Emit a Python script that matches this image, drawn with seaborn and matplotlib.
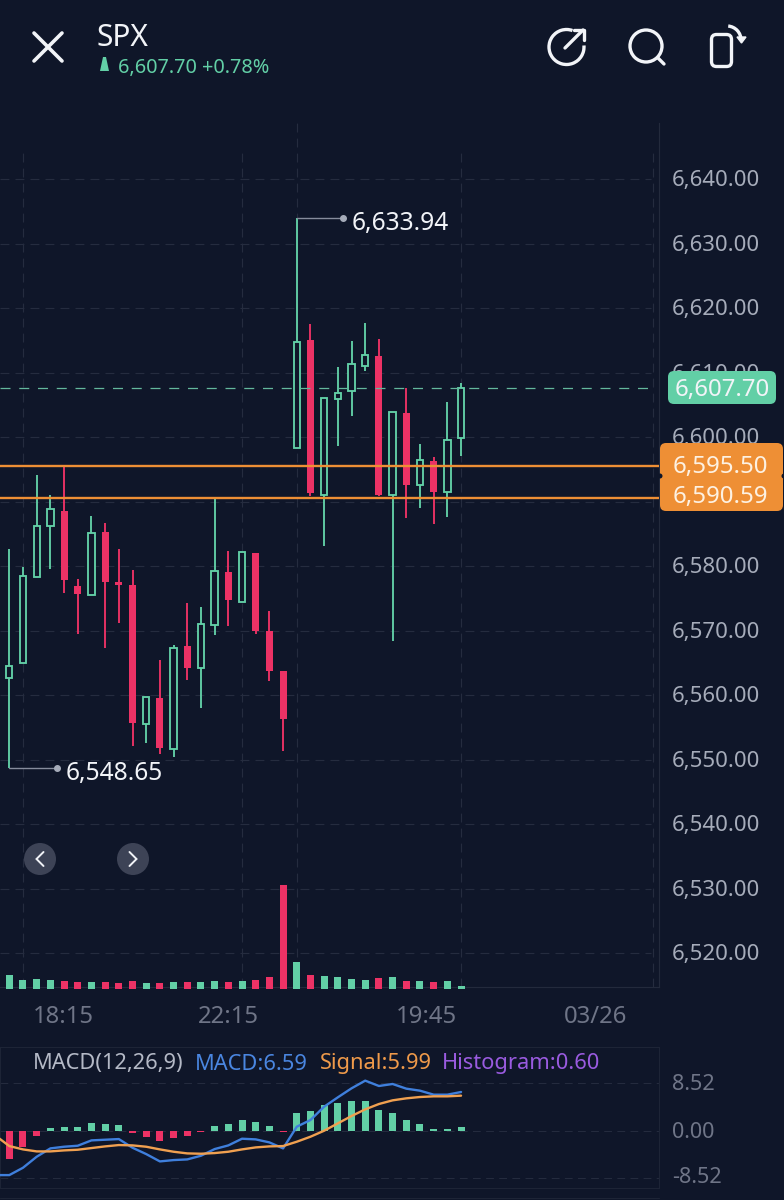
import matplotlib
matplotlib.use('Agg')
import matplotlib.pyplot as plt
import numpy as np
import pandas as pd
import seaborn as sns
from matplotlib.patches import Arc, Circle, FancyBboxPatch, Polygon
from matplotlib.transforms import ScaledTranslation

# candles
opens = [6562.61, 6565.04, 6578.27, 6586.23, 6588.61, 6576.93, 6575.53, 6585.30, 6577.55, 6577.03, 6555.48, 6559.57,
         6551.66, 6567.63, 6564.22, 6570.88, 6579.05, 6574.40, 6582.10, 6569.95, 6563.81, 6598.33, 6615.07, 6591.10,
         6605.93, 6607.14, 6611.04, 6612.59, 6591.10, 6603.81, 6592.60, 6596.37, 6591.56, 6599.88]
highs = [6582.61, 6579.82, 6594.14, 6591.04, 6595.69, 6577.96, 6587.83, 6586.75, 6582.61, 6579.41, 6559.67, 6565.46,
         6567.78, 6574.35, 6573.62, 6590.52, 6582.36, 6582.15, 6582.10, 6573.05, 6563.81, 6633.94, 6617.56, 6606.08,
         6610.94, 6614.92, 6617.76, 6615.28, 6603.86, 6607.58, 6598.95, 6596.88, 6605.41, 6608.46]
lows = [6548.65, 6565.04, 6578.27, 6579.56, 6575.90, 6569.44, 6575.53, 6567.32, 6571.14, 6552.12, 6552.54, 6550.83,
        6550.37, 6562.36, 6558.01, 6569.28, 6570.78, 6574.40, 6569.49, 6562.20, 6551.40, 6598.33, 6590.89, 6583.14,
        6598.64, 6603.29, 6610.32, 6590.89, 6568.46, 6587.43, 6589.03, 6586.55, 6587.58, 6597.09]
closes = [6564.58, 6578.53, 6586.28, 6588.87, 6577.86, 6575.64, 6585.10, 6577.50, 6577.09, 6555.74, 6559.67, 6551.76,
          6567.27, 6564.22, 6570.99, 6579.20, 6574.76, 6582.15, 6569.95, 6563.81, 6556.36, 6614.82, 6591.30, 6606.08,
          6606.91, 6611.41, 6612.75, 6591.10, 6603.86, 6592.60, 6596.52, 6591.56, 6599.57, 6607.70]
volumes = [43, 28, 30, 26, 24, 21, 20, 20, 18, 24, 17, 19, 21, 21, 21, 25, 22, 24, 27, 35, 312, 81, 41, 40, 37, 29,
           28, 32, 36, 24, 23, 21, 23, 9]

# macd panel (first line values sit one bar left of the first candle)
hist_vals = [-5.1, -3.0, -1.02, 0.54, 0.72, 0.72, 1.38, 1.26, 1.08, -0.42, -1.08, -1.86, -1.32, -0.96, -0.24, 0.78,
             1.2, 1.92, 1.5, 0.78, -0.18, 3.12, 3.54, 4.56, 5.04, 5.4, 5.4, 3.66, 3.18, 1.92, 1.26, 0.3, 0.24, 0.6]
macd_vals = [-7.98, -7.98, -6.66, -4.68, -3.18, -2.88, -2.7, -1.74, -1.62, -1.5, -3.06, -4.2, -5.52, -5.28, -5.16,
             -4.5, -3.3, -2.64, -1.44, -1.56, -2.1, -3.18, 0.72, 1.92, 4.32, 6.0, 7.62, 9.0, 8.04, 8.4, 7.56, 7.2,
             6.48, 6.48, 6.96]
signal_vals = [-0.9, -2.76, -3.36, -3.72, -3.72, -3.54, -3.42, -3.12, -2.82, -2.58, -2.64, -2.88, -3.36, -3.78, -4.08,
               -4.14, -4.02, -3.78, -3.36, -3.0, -2.82, -2.76, -1.98, -1.08, 0.0, 1.32, 2.64, 3.84, 4.8, 5.46, 5.82,
               6.06, 6.18, 6.18, 6.3]

price_ticks = [6640, 6630, 6620, 6610, 6600, 6590, 6580, 6570, 6560, 6550, 6540, 6530, 6520]
macd_ticks = [8.52, 0.0, -8.52]
time_ticks = [3.93, 15.99, 30.5, 42.8]
time_labels = ['18:15', '22:15', '19:45', '03/26']
vgrid_bars = [1, 17, 33, 47]
last_price = 6607.70
level_prices = [6595.50, 6590.59]

BG = '#0f1629'
GRID = '#252c3f'
GREEN = '#62cfa6'
RED = '#ec3265'
ORANGE = '#ee8f35'
WHITE = '#f2f4f8'
TICK = '#a6acba'
DIM = '#6f7587'
W, H = 784, 1200

sns.set_theme(style='dark', rc={'figure.facecolor': BG, 'axes.facecolor': BG, 'savefig.facecolor': BG})
plt.rcParams['font.family'] = ['Noto Sans', 'DejaVu Sans']

fig = plt.figure(figsize=(W / 100, H / 100), dpi=100)


def px_axes(left, top, right, bottom, **kw):
    return fig.add_axes([left / W, 1 - bottom / H, (right - left) / W, (bottom - top) / H], **kw)


def nudge(label, up_px):
    label.set_transform(label.get_transform() + ScaledTranslation(0, up_px / 100, fig.dpi_scale_trans))


bars = np.arange(len(opens))
xlim = (-0.679, 47.46)
df = pd.DataFrame({'bar': bars, 'open': opens, 'high': highs, 'low': lows, 'close': closes, 'volume': volumes,
                   'hist': hist_vals})
df['up'] = df['close'] >= df['open']
df['hist_up'] = df['hist'] >= 0
palette = {True: GREEN, False: RED}
grid_dash = (0, (8, 5.5))

# price panel
ax = px_axes(0, 123, 659, 987)
ax.set_xlim(xlim)
ax.set_ylim(6514.76, 6648.71)
ax.hlines(price_ticks, xlim[0], 46.9, color=GRID, lw=0.8, linestyles=[grid_dash], zorder=1)
for b in vgrid_bars:
    ax.vlines(b, 6514.76, 6644.06, color=GRID, lw=0.8, linestyles=[grid_dash], zorder=1)
ax.vlines(21, 6514.76, 6648.71, color=GRID, lw=0.8, linestyles=[grid_dash], zorder=1)

for up, part in df.groupby('up'):
    col = palette[up]
    ax.vlines(part['bar'], part['low'], part['high'], color=col, lw=1.35, zorder=2)
    body = (part['close'] - part['open']).abs()
    base = part[['open', 'close']].min(axis=1)
    if up:
        ax.bar(part['bar'], body, bottom=base, width=0.46, facecolor=BG, edgecolor=col, linewidth=1.35, zorder=3)
    else:
        ax.bar(part['bar'], body.clip(lower=0.5), bottom=base, width=0.51, color=col, linewidth=0, zorder=3)

ax.hlines(last_price, xlim[0], 47.2, color='#63b79c', lw=0.9, linestyles=[(0, (8, 7))], zorder=4)
ax.hlines(level_prices, xlim[0], xlim[1], color=ORANGE, lw=1.7, zorder=5)

# high / low callouts
ax.plot([21, 24.4], [6633.94, 6633.94], color='#868c9c', lw=1, zorder=4)
ax.plot([24.4], [6633.94], 'o', color='#a6acba', ms=4, zorder=4)
ax.annotate('6,633.94', (24.4, 6633.94), xytext=(6, -4), textcoords='offset points', color=WHITE, fontsize=17.7,
            va='center', ha='left')
ax.plot([0, 3.5], [6548.65, 6548.65], color='#868c9c', lw=1, zorder=4)
ax.plot([3.5], [6548.65], 'o', color='#a6acba', ms=4, zorder=4)
ax.annotate('6,548.65', (3.5, 6548.65), xytext=(6, -4), textcoords='offset points', color=WHITE, fontsize=17.7,
            va='center', ha='left')

ax.yaxis.tick_right()
ax.set_yticks(price_ticks)
# 6,590.00 sits fully behind the orange tags
ax.set_yticklabels(['' if p == 6590 else f'{p:,.2f}' for p in price_ticks], color=TICK, fontsize=16)
ax.set_xticks(time_ticks)
ax.set_xticklabels(time_labels, color=DIM, fontsize=17.2)
ax.tick_params(axis='y', length=0, pad=9.5)
ax.tick_params(axis='x', length=0, pad=13)
ax.grid(False)
for label in ax.get_yticklabels():
    nudge(label, 1)
for side in ['top', 'left']:
    ax.spines[side].set_visible(False)
for side in ['right', 'bottom']:
    ax.spines[side].set_color('#232a3c')
    ax.spines[side].set_linewidth(0.8)

# volume, overlaid on the bottom of the price panel
vol_ax = px_axes(0, 870, 659, 989)
vol_ax.patch.set_visible(False)
sns.barplot(data=df, x='bar', y='volume', hue='up', palette=palette, native_scale=True, dodge=False, width=0.51,
            saturation=1, legend=False, linewidth=0, ax=vol_ax)
vol_ax.set_xlim(xlim)
vol_ax.set_ylim(0, 357)
vol_ax.axis('off')

# macd panel
macd_ax = px_axes(0, 1047, 659, 1188)
macd_ax.set_xlim(xlim)
macd_ax.hlines(macd_ticks, xlim[0], xlim[1], color=GRID, lw=0.7, linestyles=[grid_dash], zorder=0)
sns.barplot(data=df, x='bar', y='hist', hue='hist_up', palette=palette, native_scale=True, dodge=False, width=0.51,
            saturation=1, legend=False, linewidth=0, ax=macd_ax)
line_x = np.arange(-1, len(opens))
sns.lineplot(x=line_x, y=macd_vals, color='#3f7fdc', lw=1.7, estimator=None, ax=macd_ax, zorder=4)
sns.lineplot(x=line_x, y=signal_vals, color='#f0a050', lw=1.7, estimator=None, ax=macd_ax, zorder=5)
macd_ax.set_xlim(xlim)
macd_ax.set_ylim(-10.3, 15.05)
macd_ax.set_xlabel('')
macd_ax.set_ylabel('')
macd_ax.set_xticks([])
macd_ax.yaxis.tick_right()
macd_ax.set_yticks(macd_ticks)
macd_ax.set_yticklabels(['8.52', '0.00', '-8.52'], color=DIM, fontsize=15.6)
macd_ax.tick_params(axis='y', length=0, pad=9.5)
macd_ax.grid(False)
for label, up_px in zip(macd_ax.get_yticklabels(), [1, 1, 3]):
    nudge(label, up_px)
for spine in macd_ax.spines.values():
    spine.set_color('#1d2436')
    spine.set_linewidth(0.8)

# overlay in pixel units for the app chrome
ui = px_axes(0, 0, W, H)
ui.set_xlim(0, W)
ui.set_ylim(H, 0)
ui.axis('off')
ui.patch.set_visible(False)

ui.text(33, 1064, 'MACD(12,26,9)', color='#b4b9c6', fontsize=15.7, va='center')
ui.text(195, 1064, 'MACD:6.59', color='#4a86e0', fontsize=15.7, va='center')
ui.text(320, 1064, 'Signal:5.99', color='#ef9a4a', fontsize=15.7, va='center')
ui.text(442, 1064, 'Histogram:0.60', color='#9a5be0', fontsize=15.7, va='center')
ui.plot([0, 659], [1198, 1198], color='#1d2436', lw=0.8)

# price tags
ui.add_patch(FancyBboxPatch((672, 375), 100, 25, boxstyle='round,pad=4,rounding_size=6', fc=GREEN, ec='none', zorder=6))
ui.text(722, 390, '6,607.70', color=WHITE, fontsize=17.3, ha='center', va='center', zorder=7)
ui.add_patch(FancyBboxPatch((664, 447), 115, 60, boxstyle='round,pad=4,rounding_size=6', fc=ORANGE, ec='none', zorder=6))
ui.add_patch(Circle((660, 476), 2.5, fc=BG, ec='none', zorder=6))
ui.add_patch(Circle((784, 476), 2.5, fc=BG, ec='none', zorder=6))
ui.text(720, 467.5, '6,595.50', color='#fdf1e2', fontsize=17.3, ha='center', va='center', zorder=7)
ui.text(720, 497.5, '6,590.59', color='#fdf1e2', fontsize=17.3, ha='center', va='center', zorder=7)

# header
ui.text(97, 38, 'SPX', color=WHITE, fontsize=21.6, va='center')
ui.text(118, 68, '6,607.70 +0.78%', color=GREEN, fontsize=14.3, va='center')
ui.add_patch(Polygon([[103, 57], [106, 57], [109, 71], [100, 71]], closed=True, fc=GREEN, ec='none'))
ui.plot([34, 62], [33, 61], color=WHITE, lw=2.6, solid_capstyle='round')
ui.plot([34, 62], [61, 33], color=WHITE, lw=2.6, solid_capstyle='round')

ui.add_patch(Arc((566.5, 47), 35, 35, theta1=-5, theta2=290, color=WHITE, lw=2.4))
ui.plot([565, 583], [48, 30], color=WHITE, lw=2.4, solid_capstyle='round')
ui.plot([574, 584, 584], [30, 30, 40], color=WHITE, lw=2.4, solid_capstyle='round', solid_joinstyle='round')
ui.add_patch(Circle((646, 46), 16, fc='none', ec=WHITE, lw=2.4))
ui.plot([658, 664], [58, 64], color=WHITE, lw=2.4, solid_capstyle='round')
ui.add_patch(FancyBboxPatch((714.5, 37.5), 14, 26, boxstyle='round,pad=3,rounding_size=5', fc='none', ec=WHITE, lw=2.4))
ui.add_patch(Arc((727, 40), 28, 28, theta1=275, theta2=360, color=WHITE, lw=2.4))
ui.add_patch(Polygon([[737, 37], [746, 37], [741.5, 43]], closed=True, fc=WHITE, ec=WHITE, lw=1))

# chart scroll buttons
for cx, sign in [(40, -1), (133, 1)]:
    ui.add_patch(Circle((cx, 859), 16, fc='#3d4356', ec='none'))
    ui.plot([cx - sign * 3.5, cx + sign * 3.5, cx - sign * 3.5], [852, 859, 866], color=WHITE, lw=1.4,
            solid_joinstyle='miter')

fig.savefig('out.png', dpi=100, facecolor=BG)
